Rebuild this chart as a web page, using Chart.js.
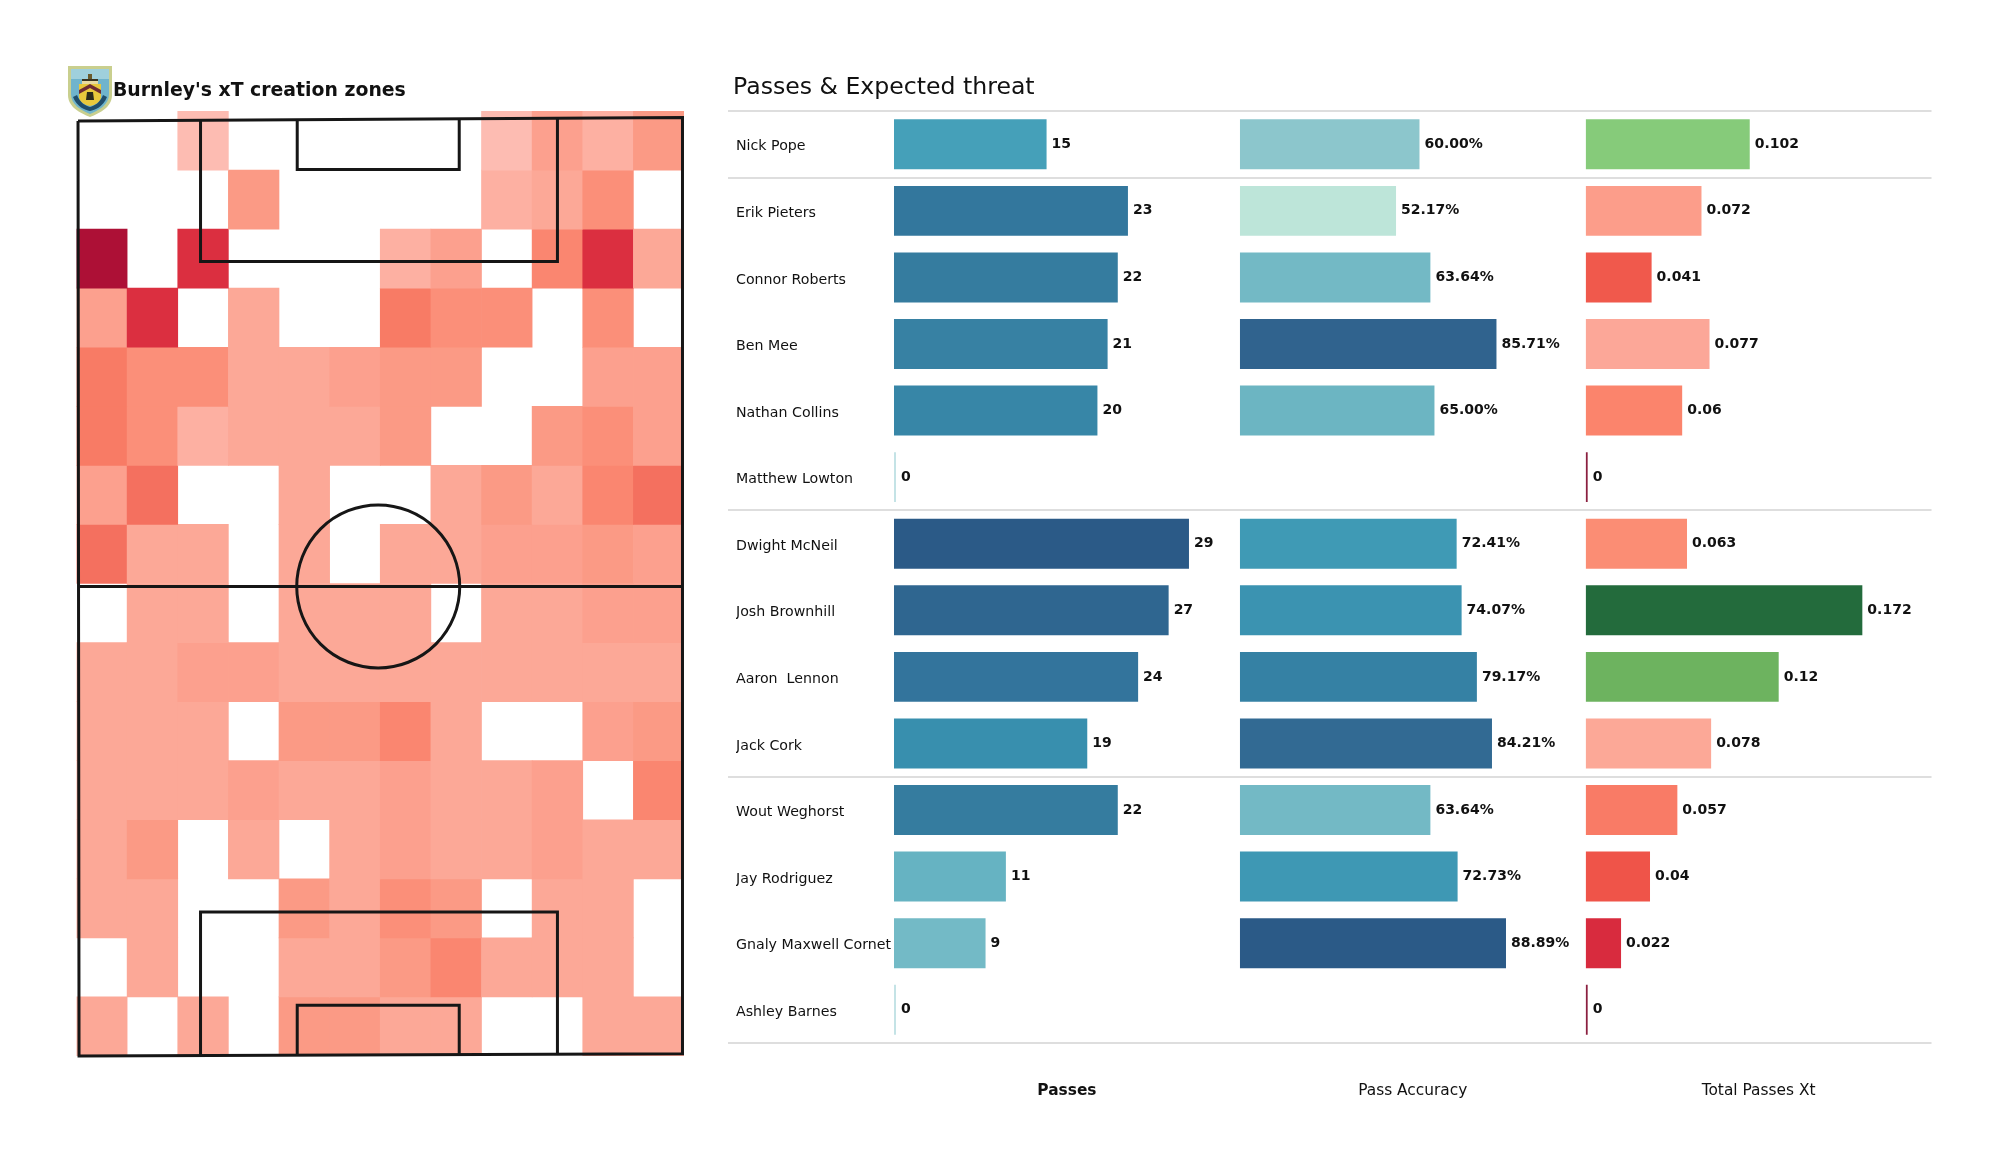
<!DOCTYPE html>
<html>
<head>
<meta charset="utf-8">
<title>Burnley xT</title>
<script src="https://cdn.jsdelivr.net/npm/chart.js@4/dist/chart.umd.min.js"></script>
<style>
  body { margin: 0; background: #fff; width: 2000px; height: 1175px; position: relative; overflow: hidden; font-family: "DejaVu Sans", sans-serif; }
  canvas { position: absolute; top: 0; }
  #zones { left: 0; }
  #threat { left: 720px; }
  .heading { position: absolute; color: #111; white-space: nowrap; }
  #zonesTitle { left: 113px; top: 79px; font-size: 18.85px; font-weight: bold; }
  #threatTitle { left: 733px; top: 72px; font-size: 23.6px; }
  #crest { position: absolute; left: 67px; top: 65px; }
</style>
</head>
<body>
<canvas id="zones" width="720" height="1175"></canvas>
<canvas id="threat" width="1280" height="1175"></canvas>
<div class="heading" id="zonesTitle">Burnley's xT creation zones</div>
<div class="heading" id="threatTitle">Passes &amp; Expected threat</div>
<svg id="crest" width="46" height="53" viewBox="0 0 46 53">
  <path d="M1 1 H45 V30 C45 42 33 48 23 52 C13 48 1 42 1 30 Z" fill="#c9cf8e"/>
  <path d="M4 4 H42 V29 C42 40 32 45 23 49 C14 45 4 40 4 29 Z" fill="#6fb4cc"/>
  <path d="M4 4 H42 V14 H4 Z" fill="#9fd0dc"/>
  <rect x="15" y="14" width="16" height="5" fill="#e8d9a0"/>
  <rect x="15" y="14" width="16" height="2" fill="#3a3420"/>
  <rect x="21" y="9" width="4" height="5" fill="#6b5a2a"/>
  <path d="M12 19 H34 V32 C34 37 28 40 23 41 C18 40 12 37 12 32 Z" fill="#e8c83c"/>
  <path d="M12 25 L23 19 L34 25 L34 29 L23 23 L12 29 Z" fill="#6e2b33"/>
  <path d="M20 27 L26 27 L27 35 L19 35 Z" fill="#2a2a1c"/>
  <path d="M6 32 C10 42 18 45 23 46 C28 45 36 42 40 32 L36 30 C33 38 27 41 23 42 C19 41 13 38 10 30 Z" fill="#1f4d6b"/>
</svg>

<script>
// heat map, rows run from the top of the pitch, 0 is an empty zone
const zoneColumns = ["c0", "c1", "c2", "c3", "c4", "c5", "c6", "c7", "c8", "c9", "c10", "c11"];
const zoneRows = [
  [0, 0, 1, 0, 0, 0, 0, 0, 1, 4, 2, 5],
  [0, 0, 0, 5, 0, 0, 0, 0, 2, 3, 6, 0],
  [11, 0, 10, 0, 0, 0, 2, 4, 0, 7, 10, 3],
  [4, 10, 0, 3, 0, 0, 8, 6, 6, 0, 6, 0],
  [8, 6, 6, 3, 3, 4, 5, 5, 0, 0, 4, 4],
  [8, 6, 2, 3, 3, 3, 5, 0, 0, 5, 6, 4],
  [4, 9, 0, 0, 3, 0, 0, 3, 5, 3, 7, 9],
  [9, 3, 3, 0, 3, 0, 3, 3, 4, 4, 5, 4],
  [0, 3, 3, 0, 3, 3, 3, 0, 3, 3, 4, 4],
  [3, 3, 4, 4, 3, 3, 3, 3, 3, 3, 3, 3],
  [3, 3, 3, 0, 5, 5, 7, 3, 0, 0, 4, 5],
  [3, 3, 3, 4, 3, 3, 4, 3, 3, 4, 0, 7],
  [3, 5, 0, 3, 0, 3, 4, 3, 3, 4, 3, 3],
  [3, 3, 0, 0, 5, 3, 6, 5, 0, 3, 3, 0],
  [0, 3, 0, 0, 3, 3, 5, 7, 3, 3, 3, 0],
  [3, 0, 3, 0, 5, 5, 3, 3, 0, 0, 3, 3]
];
const zoneShades = ["#ffffff", "#fdbcb2", "#fdb0a2", "#fca897", "#fca08e", "#fb9a85", "#fb8f79", "#fa8670", "#f87b65", "#f4705f", "#db2f40", "#ad1036"];

// pitch markings in zone units (column, row)
const pitchLines = [
  [[0.03, 0.17], [11.97, 0.11], [11.97, 15.96], [0.05, 16.0], [0.03, 0.17]],
  [[0.03, 8.05], [11.97, 8.05]],
  [[2.45, 0.16], [2.45, 2.55], [9.5, 2.55], [9.5, 0.12]],
  [[4.36, 0.15], [4.36, 0.99], [7.56, 0.99], [7.56, 0.14]],
  [[2.45, 16.0], [2.45, 13.56], [9.5, 13.56], [9.5, 15.97]],
  [[4.36, 16.0], [4.36, 15.14], [7.56, 15.14], [7.56, 15.98]]
];
const circleCentre = [5.96, 8.05];
const circleRadius = [1.61, 1.38];

// bars
const players = ["Nick Pope", "Erik Pieters", "Connor Roberts", "Ben Mee", "Nathan Collins", "Matthew Lowton", "Dwight McNeil", "Josh Brownhill", "Aaron  Lennon", "Jack Cork", "Wout Weghorst", "Jay Rodriguez", "Gnaly Maxwell Cornet", "Ashley Barnes"];
const passes = [15, 23, 22, 21, 20, 0, 29, 27, 24, 19, 22, 11, 9, 0];
const passAccuracy = [60.00, 52.17, 63.64, 85.71, 65.00, null, 72.41, 74.07, 79.17, 84.21, 63.64, 72.73, 88.89, null];
const totalXt = [0.102, 0.072, 0.041, 0.077, 0.06, 0, 0.063, 0.172, 0.12, 0.078, 0.057, 0.04, 0.022, 0];
const passColors = ["#45a0b9", "#33779d", "#357c9f", "#3781a3", "#3786a7", "#c4e3e6", "#2b5a87", "#2f6690", "#33749c", "#388fae", "#357c9f", "#66b3c2", "#73bac6", "#c4e3e6"];
const accuracyColors = ["#8cc6cc", "#bde5d9", "#73b9c5", "#30638e", "#6cb5c2", "#ffffff", "#3f9ab5", "#3b93b1", "#3581a4", "#326a93", "#73b9c5", "#3e98b4", "#2b5a87", "#ffffff"];
const xtColors = ["#86cb7a", "#fc9d8a", "#f0594c", "#fca798", "#fb846c", "#8b2040", "#fb8d74", "#236b3c", "#6db35f", "#fca897", "#f97b66", "#ef5449", "#d82b3e", "#8b2040"];
const separatorRows = [0, 1, 6, 10];

const pitchPlugin = {
  id: "pitch",
  afterDatasetsDraw(chart) {
    const { ctx, scales } = chart;
    const px = v => scales.xl.getPixelForValue(v);
    const py = v => scales.y.getPixelForValue(v);
    ctx.save();
    ctx.strokeStyle = "#161616";
    ctx.lineWidth = 3;
    ctx.lineJoin = "miter";
    pitchLines.forEach(line => {
      ctx.beginPath();
      line.forEach((p, i) => i ? ctx.lineTo(px(p[0]), py(p[1])) : ctx.moveTo(px(p[0]), py(p[1])));
      ctx.stroke();
    });
    ctx.beginPath();
    ctx.ellipse(px(circleCentre[0]), py(circleCentre[1]),
      px(circleRadius[0]) - px(0), py(circleRadius[1]) - py(0), 0, 0, Math.PI * 2);
    ctx.stroke();
    ctx.restore();
  }
};

new Chart(document.getElementById("zones"), {
  type: "bar",
  data: {
    labels: zoneColumns,
    datasets: zoneRows.map((row, r) => ({
      data: row.map(v => v ? [r, r + 1] : null),
      backgroundColor: row.map(v => zoneShades[v]),
      borderWidth: 0,
      grouped: false,
      barPercentage: 1,
      categoryPercentage: 1
    }))
  },
  options: {
    responsive: false,
    animation: false,
    layout: { padding: { left: 76.5, right: 36, top: 111, bottom: 119 } },
    plugins: { legend: { display: false }, tooltip: { enabled: false } },
    scales: {
      x: { display: false },
      xl: { type: "linear", axis: "x", display: false, offset: false, min: 0, max: 12 },
      y: { display: false, reverse: true, min: 0, max: 16 }
    }
  },
  plugins: [pitchPlugin]
});

const valueLabels = {
  id: "valueLabels",
  afterDatasetsDraw(chart) {
    const { ctx } = chart;
    ctx.save();
    ctx.font = "bold 14px 'DejaVu Sans'";
    ctx.fillStyle = "#111";
    ctx.textBaseline = "middle";
    chart.data.datasets.forEach((ds, i) => {
      chart.getDatasetMeta(i).data.forEach((bar, j) => {
        const v = ds.data[j];
        if (v === null) return;
        ctx.fillText(ds.label === "Pass Accuracy" ? v.toFixed(2) + "%" : String(v), bar.x + 5, bar.y);
      });
    });
    ctx.restore();
  }
};

function barSet(label, data, colors, axis) {
  return { label, data, backgroundColor: colors, xAxisID: axis, yAxisID: "y", grouped: false, barPercentage: 0.75, categoryPercentage: 1, minBarLength: 2 };
}

function valueAxis(title, max, bold) {
  return {
    axis: "x",
    type: "linear",
    position: "bottom",
    stack: "columns",
    stackWeight: 1,
    min: 0,
    max,
    offset: false,
    grid: { display: false },
    border: { display: false },
    ticks: { display: false },
    title: { display: true, text: title, color: "#111", padding: { top: 31, bottom: 4 }, font: { family: "DejaVu Sans", size: 15.4, weight: bold ? "bold" : "normal" } }
  };
}

const rowLine = ctx => (ctx.index === undefined || separatorRows.includes(ctx.index)) ? "#dedede" : "transparent";

new Chart(document.getElementById("threat"), {
  type: "bar",
  data: {
    labels: players,
    datasets: [
      barSet("Passes", passes, passColors, "passes"),
      barSet("Pass Accuracy", passAccuracy, accuracyColors, "accuracy"),
      barSet("Total Passes Xt", totalXt, xtColors, "xt")
    ]
  },
  options: {
    indexAxis: "y",
    responsive: false,
    animation: false,
    layout: { padding: { left: 16, right: 68.5, top: 111, bottom: 70.5 } },
    plugins: { legend: { display: false }, tooltip: { enabled: false } },
    scales: {
      y: {
        grid: { color: rowLine, tickColor: rowLine, tickLength: 166, lineWidth: 2, tickWidth: 2 },
        border: { display: false },
        ticks: { crossAlign: "far", padding: 0, labelOffset: 2.5, autoSkip: false, color: "#111", font: { family: "DejaVu Sans", size: 14.2 } },
        afterFit(scale) { scale.width = 158; }
      },
      passes: valueAxis("Passes", 34, true),
      accuracy: valueAxis("Pass Accuracy", 115.5, false),
      xt: valueAxis("Total Passes Xt", 0.215, false)
    }
  },
  plugins: [valueLabels]
});
</script>
</body>
</html>
